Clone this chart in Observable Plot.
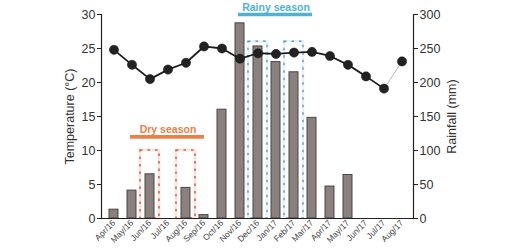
<!DOCTYPE html>
<html>
<head>
<meta charset="utf-8">
<script src="https://cdn.jsdelivr.net/npm/d3@7"></script>
<script src="https://cdn.jsdelivr.net/npm/@observablehq/plot@0.6"></script>
<style>
  html, body { margin: 0; padding: 0; background: #fff; }
  #chart { width: 528px; height: 251px; }
</style>
</head>
<body>
<div id="chart"></div>
<script>
const months = ["Apr/16","May/16","Jun/16","Jul/16","Aug/16","Sep/16","Oct/16","Nov/16","Dec/16","Jan/17","Feb/17","Mar/17","Apr/17","May/17","Jun/17","Jul/17","Aug/17"];
const rainfall = [13, 41, 65, 0, 45, 5, 160, 287, 253, 230, 215, 148, 47, 64, 0, 0, 0];
const temperature = [24.8, 22.6, 20.5, 21.9, 22.9, 25.3, 25.0, 23.5, 24.3, 24.2, 24.4, 24.5, 23.9, 22.6, 20.9, 19.1, 23.1];
const tempTicks = [0, 5, 10, 15, 20, 25, 30];
const rainTicks = [0, 50, 100, 150, 200, 250, 300];
const dryMonths = ["Jun/16", "Aug/16"];
const rainyMonths = ["Dec/16", "Feb/17"];
const dryBoxTop = 10;      // in °C units (=100 mm)
const rainyBoxTop = 26;
const seasons = [
  {label: "Dry season", from: "May/16", to: "Sep/16", mid: "Jul/16", y: 12, color: "#ea8148"},
  {label: "Rainy season", from: "Nov/16", to: "Mar/17", mid: "Jan/17", y: 30, color: "#4eb2d8"}
];

const ratio = 10; // mm per °C on the shared vertical scale
const data = months.map((m, i) => ({month: m, rain: rainfall[i], temp: temperature[i]}));
const mainLine = data.slice(0, data.length - 1);
const lastSeg = data.slice(data.length - 2);

const font = "Liberation Sans, Arial, sans-serif";

const chart = Plot.plot({
  width: 528,
  height: 251,
  marginLeft: 101,
  marginRight: 115,
  marginTop: 14,
  marginBottom: 33,
  style: {fontFamily: font, background: "#fff", color: "#333", overflow: "visible"},
  x: {type: "band", domain: months, paddingInner: 0.5, paddingOuter: 0.25},
  y: {domain: [0, 30]},
  marks: [
    // dashed season boxes
    Plot.barY(dryMonths, {x: d => d, y: () => dryBoxTop, fill: "none", stroke: "#fbe3dc", strokeWidth: 2.6, insetLeft: -5, insetRight: -5}),
    Plot.barY(dryMonths, {x: d => d, y: () => dryBoxTop, fill: "none", stroke: "#e05a44", strokeWidth: 1.5, strokeDasharray: "2.5,5", insetLeft: -5, insetRight: -5}),
    Plot.barY(rainyMonths, {x: d => d, y: () => rainyBoxTop, fill: "none", stroke: "#e2f3fa", strokeWidth: 2.6, insetLeft: -5, insetRight: -5}),
    Plot.barY(rainyMonths, {x: d => d, y: () => rainyBoxTop, fill: "none", stroke: "#6d98b4", strokeWidth: 1.4, strokeDasharray: "2.5,5", insetLeft: -5, insetRight: -5}),
    // rainfall bars
    Plot.barY(data, {x: "month", y: d => d.rain / ratio, fill: "#8a807d", stroke: "#4a4443", strokeWidth: 1}),
    // axes lines
    Plot.frame({anchor: "left", stroke: "#222", strokeWidth: 1.2}),
    Plot.frame({anchor: "right", stroke: "#222", strokeWidth: 1.2}),
    Plot.ruleY([0], {stroke: "#222", strokeWidth: 1.2}),
    // temperature line
    Plot.line(lastSeg, {x: "month", y: "temp", stroke: "#b8b8b8", strokeWidth: 1}),
    Plot.line(mainLine, {x: "month", y: "temp", stroke: "#1e1e1e", strokeWidth: 1.8}),
    Plot.dot(data, {x: "month", y: "temp", r: 4.6, fill: "#222", stroke: "#111", strokeWidth: 0.5}),
    // season annotations
    Plot.ruleY(seasons, {x1: "from", x2: "to", y: "y", stroke: "color", strokeWidth: 3.6, insetLeft: 3, insetRight: 4}),
    Plot.text(seasons, {x: "mid", y: "y", text: "label", fill: "color", dy: -7, fontSize: 10.5, fontWeight: "bold", fontFamily: font}),
    // axes
    Plot.axisY({anchor: "left", ticks: tempTicks, tickSize: 4, tickPadding: 2, fontSize: 12.5, label: "Temperature (°C)", labelAnchor: "center", labelArrow: "none", labelOffset: 36, stroke: "#222"}),
    Plot.axisY({anchor: "right", ticks: tempTicks, tickFormat: d => d * ratio, tickSize: 4, tickPadding: 2, fontSize: 12.5, label: "Rainfall (mm)", labelAnchor: "center", labelArrow: "none", labelOffset: 42, stroke: "#222"}),
    Plot.axisX({tickRotate: -45, tickSize: 0, tickPadding: 3, fontSize: 8.5, label: null, fill: "#444"})
  ]
});
document.getElementById("chart").appendChild(chart);
</script>
</body>
</html>
